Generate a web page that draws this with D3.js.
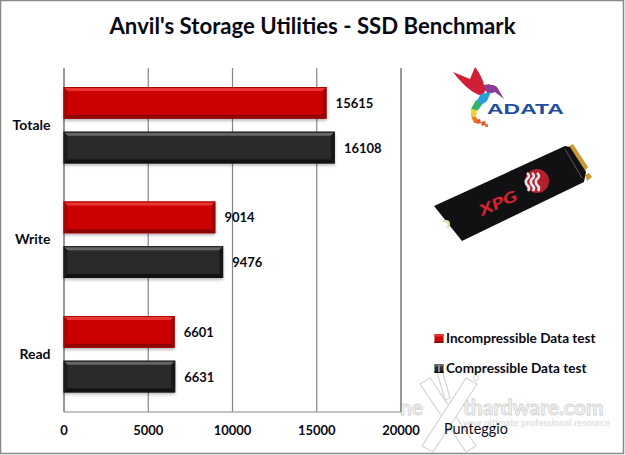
<!DOCTYPE html>
<html>
<head>
<meta charset="utf-8">
<script src="https://cdn.jsdelivr.net/npm/d3@7"></script>
<style>
  html, body { margin: 0; padding: 0; background: #fff; overflow: hidden; }
  text { font-family: Lato, "Open Sans", sans-serif; }
</style>
</head>
<body>
<div id="app"></div>
<script>
const titleText = "Anvil's Storage Utilities - SSD Benchmark";
const categories = ['Totale', 'Write', 'Read'];
const seriesNames = ['Incompressible Data test', 'Compressible Data test'];
const incompressible = [15615, 9014, 6601];
const compressible = [16108, 9476, 6631];
const xTicks = [0, 5000, 10000, 15000, 20000];
const axisTitle = 'Punteggio';

const width = 625;
const height = 455;
const textColor = '#0a0a14';
const gridColor = '#858585';
const palette = [
  { base: '#cc0606', light: '#e93434', dark: '#8e0505', edge: '#a80404' },
  { base: '#2b2b2b', light: '#666666', dark: '#111111', edge: '#1a1a1a' },
];

const svg = d3.select('#app').append('svg')
  .attr('width', width).attr('height', height)
  .style('display', 'block');

svg.append('rect').attr('x', 0.5).attr('y', 0.5)
  .attr('width', width - 2).attr('height', height - 2)
  .attr('fill', '#fff').attr('stroke', '#8a8a8a').attr('stroke-width', 1.5);

svg.append('text').attr('x', 312.5).attr('y', 33.5)
  .attr('text-anchor', 'middle')
  .attr('font-size', 22.2).attr('font-weight', 700)
  .attr('fill', textColor).text(titleText);

// Scales
const xScale = d3.scaleLinear().domain([0, 20000]).range([63.5, 400.5]);
const yScale = d3.scaleBand().domain(categories).range([68, 411.5]);
const seriesScale = d3.scaleBand().domain([0, 1])
  .range([0, yScale.bandwidth()]).paddingInner(0.289).paddingOuter(0.428);

// Watermark stays behind everything else
const mark = svg.append('g');
mark.selectAll('path').data([
  'M420,384 L430,378 L476,446 L466,452 Z',
  'M466,378 L477,384 L433,452 L422,446 Z',
  'M437,372 L442,370 L450,398 L445,400 Z',
]).join('path').attr('d', (d) => d)
  .attr('fill', '#fff').attr('stroke', '#d4d4d4').attr('stroke-width', 1.2);
mark.append('circle').attr('cx', 476).attr('cy', 378).attr('r', 2.5)
  .attr('fill', 'none').attr('stroke', '#d4d4d4');
[['ne', 400], ['thardware.com', 463]].forEach(([t, x]) => {
  mark.append('text').attr('x', x).attr('y', 415).text(t)
    .attr('font-size', 21).attr('font-weight', 700)
    .attr('fill', '#f4f4f4').attr('stroke', '#d0d0d0').attr('stroke-width', 0.8);
});
mark.append('text').attr('x', 463).attr('y', 426)
  .text('your ultimate professional resource')
  .attr('font-size', 9.4).attr('font-weight', 700)
  .attr('fill', '#dedede');

// Grid and axes
const axisX = d3.axisBottom(xScale).tickValues(xTicks)
  .tickFormat(d3.format('d')).tickSize(-(411.5 - 68)).tickPadding(14);
const axisXG = svg.append('g').attr('transform', 'translate(0,411.5)').call(axisX);
axisXG.select('.domain').attr('stroke', gridColor).attr('stroke-width', 1.2);
axisXG.selectAll('line').attr('stroke', gridColor).attr('stroke-width', 1.2);
axisXG.selectAll('text').attr('font-size', 13).attr('font-weight', 700)
  .attr('font-family', 'Lato').attr('fill', textColor);

const axisY = d3.axisLeft(yScale).tickSize(0).tickPadding(13);
const axisYG = svg.append('g').attr('transform', 'translate(63.5,0)').call(axisY);
axisYG.select('.domain').remove();
axisYG.selectAll('text').attr('font-size', 14).attr('font-weight', 700)
  .attr('font-family', 'Lato').attr('fill', textColor);

// Bars
const defs = svg.append('defs');
const shadow = defs.append('filter').attr('id', 'barShadow')
  .attr('x', '-5%').attr('y', '-20%').attr('width', '110%').attr('height', '150%');
shadow.append('feDropShadow').attr('dx', 0).attr('dy', 2)
  .attr('stdDeviation', 1.6).attr('flood-color', '#000').attr('flood-opacity', 0.28);

[incompressible, compressible].forEach((values, s) => {
  const colors = palette[s];
  const rows = svg.append('g').selectAll('g').data(values).join('g')
    .attr('transform', (d, i) => `translate(0,${yScale(categories[i]) + seriesScale(s)})`);
  const bh = seriesScale.bandwidth();
  const bevel = 4;
  const x0 = xScale(0);

  rows.append('rect').attr('x', x0).attr('y', 0)
    .attr('width', (d) => xScale(d) - x0).attr('height', bh)
    .attr('fill', colors.base).attr('filter', 'url(#barShadow)');
  // top facet
  rows.append('path').attr('fill', colors.light)
    .attr('d', (d) => `M${x0},0H${xScale(d)}L${xScale(d) - bevel},${bevel}H${x0 + bevel}Z`);
  rows.append('path').attr('fill', colors.edge)
    .attr('d', (d) => `M${x0},0H${xScale(d)}V1H${x0}Z`);
  // bottom facet
  rows.append('path').attr('fill', colors.dark)
    .attr('d', (d) => `M${x0},${bh}H${xScale(d)}L${xScale(d) - bevel},${bh - bevel}H${x0 + bevel}Z`);
  // side facets
  rows.append('path').attr('fill', colors.dark).attr('opacity', 0.75)
    .attr('d', (d) => `M${xScale(d)},0V${bh}L${xScale(d) - bevel},${bh - bevel}V${bevel}Z`);
  rows.append('path').attr('fill', colors.dark).attr('opacity', 0.55)
    .attr('d', `M${x0},0V${bh}L${x0 + bevel},${bh - bevel}V${bevel}Z`);

  rows.append('text').attr('x', (d) => xScale(d) + 9).attr('y', bh / 2 + 0.5)
    .attr('dy', '0.35em').attr('font-size', 13).attr('font-weight', 700)
    .attr('fill', textColor).text((d) => d);
});

// Legend
const legendRows = [334, 364];
seriesNames.forEach((name, s) => {
  const g = svg.append('g').attr('transform', `translate(434.5,${legendRows[s]})`);
  g.append('rect').attr('width', 9).attr('height', 9).attr('fill', palette[s].base);
  g.append('rect').attr('width', 9).attr('height', 2.5).attr('fill', palette[s].light);
  g.append('rect').attr('y', 7).attr('width', 9).attr('height', 2).attr('fill', palette[s].dark);
  if (s === 1) {
    g.append('rect').attr('x', 3.5).attr('y', 1).attr('width', 2).attr('height', 7).attr('fill', '#8a8a8a');
  }
  g.append('text').attr('x', 11.5).attr('y', 8.5)
    .attr('font-size', 13.6).attr('font-weight', 700)
    .attr('fill', textColor).text(name);
});

svg.append('text').attr('x', 444).attr('y', 433.5)
  .attr('font-size', 14.4).attr('fill', textColor).text(axisTitle);

// ADATA logo
const logo = svg.append('g');
const birdParts = [
  ['M453,72 L470,79 L475,67 Q482,76 484,85 L490,84 L482,96 Q468,92 453,72 Z', '#cf2036'],
  ['M484,86 Q492,83 497,87 L504,99 L495,92 Q491,94 487,93 Z', '#8e3a97'],
  ['M481,94 L491,92 L487,101 L480,106 L476,102 Z', '#2a9fd8'],
  ['M476,100 L482,105 L477,111 L471,109 Z', '#35b26c'],
  ['M471,109 L477,110 L476,117 L471,116 Z', '#e8d52a'],
  ['M471,116 L476,117 L480,123 L474,123 Z', '#ee7d23'],
  ['M476,120 L480,119 L481,123 L477,124 Z', '#e8552a'],
  ['M481,122 L485,121 L486,125 L482,126 Z', '#e8552a'],
  ['M485,124 L488,124 L488,127 L485,127 Z', '#ee7d23'],
];
logo.selectAll('path').data(birdParts).join('path')
  .attr('d', (d) => d[0]).attr('fill', (d) => d[1]);
logo.append('text').attr('transform', 'translate(487,114) scale(1.53,1)')
  .style('font-family', '"Liberation Sans"')
  .attr('font-size', 15).attr('font-weight', 700)
  .attr('fill', '#1f4e9e').text('ADATA');

// SSD picture
const ssd = svg.append('g');
ssd.append('path').attr('fill', '#c99a35')
  .attr('d', 'M569,146 L573,144 L588,167 L585,171 Z M585,175 L589,173 L592,177 L587,181 Z');
ssd.append('path').attr('fill', '#111114')
  .attr('d', 'M434,206 L565,146 L570,147 L586,172 L584,182 L462,241 Z');
ssd.append('path').attr('fill', 'none').attr('stroke', '#777').attr('stroke-width', 0.7)
  .attr('d', 'M565,149 L582,178');
ssd.append('circle').attr('cx', 446).attr('cy', 224).attr('r', 4).attr('fill', '#e6d9ad');
ssd.append('circle').attr('cx', 444.5).attr('cy', 225).attr('r', 3).attr('fill', '#fff');
ssd.append('circle').attr('cx', 537).attr('cy', 181).attr('r', 12).attr('fill', '#b51f2b');
ssd.selectAll('path.sq').data([-5, 0, 5]).join('path').attr('class', 'sq')
  .attr('d', (d) => `M${532 + d},173 q4,3 0,6 q-3,3 1,7 q2,2 0,5`)
  .attr('fill', 'none').attr('stroke', '#dfe6ee').attr('stroke-width', 2.6);
ssd.append('text').attr('transform', 'translate(482,216) rotate(-24)')
  .attr('font-size', 15).attr('font-weight', 900).attr('font-style', 'italic')
  .attr('textLength', 40).attr('lengthAdjust', 'spacingAndGlyphs')
  .attr('fill', '#d8232f').text('XPG');
</script>
</body>
</html>
